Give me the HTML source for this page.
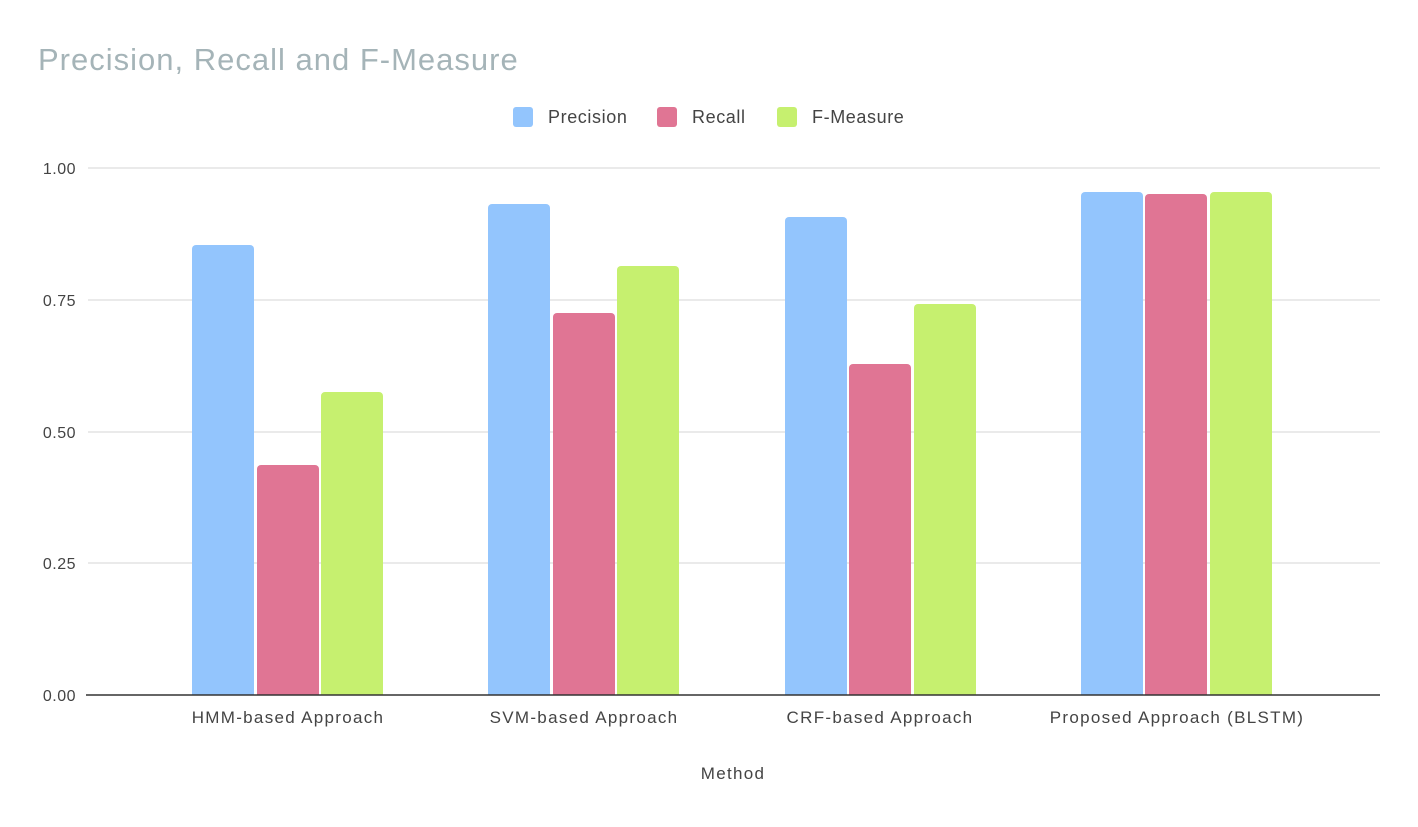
<!DOCTYPE html>
<html><head><style>
body{margin:0;background:#fff;}
svg{display:block;font-family:"Liberation Sans",sans-serif;}
</style></head><body>
<svg width="1418" height="827" viewBox="0 0 1418 827">
<rect width="1418" height="827" fill="#fff"/>
<text x="38" y="70" font-size="31" letter-spacing="1" fill="#a5b4b8">Precision, Recall and F-Measure</text>
<rect x="513" y="107" width="20" height="20" rx="3" fill="#93c5fd"/>
<text x="548" y="123" font-size="18" letter-spacing="0.6" fill="#444">Precision</text>
<rect x="657" y="107" width="20" height="20" rx="3" fill="#e07594"/>
<text x="692" y="123" font-size="18" letter-spacing="0.6" fill="#444">Recall</text>
<rect x="777" y="107" width="20" height="20" rx="3" fill="#c6f06f"/>
<text x="812" y="123" font-size="18" letter-spacing="0.6" fill="#444">F-Measure</text>
<g stroke="#e3e3e3" stroke-width="1.5">
<line x1="88" y1="168" x2="1380" y2="168"/>
<line x1="88" y1="300" x2="1380" y2="300"/>
<line x1="88" y1="432" x2="1380" y2="432"/>
<line x1="88" y1="563" x2="1380" y2="563"/>
</g>
<g font-size="16" fill="#444" text-anchor="end" letter-spacing="0.5">
<text x="76" y="174">1.00</text>
<text x="76" y="306">0.75</text>
<text x="76" y="438">0.50</text>
<text x="76" y="569">0.25</text>
<text x="76" y="701">0.00</text>
</g>
<g>
<rect x="192" y="245" width="62" height="455" rx="4" fill="#93c5fd"/>
<rect x="257" y="465" width="62" height="235" rx="4" fill="#e07594"/>
<rect x="321" y="392" width="62" height="308" rx="4" fill="#c6f06f"/>
<rect x="488" y="204" width="62" height="496" rx="4" fill="#93c5fd"/>
<rect x="553" y="313" width="62" height="387" rx="4" fill="#e07594"/>
<rect x="617" y="266" width="62" height="434" rx="4" fill="#c6f06f"/>
<rect x="785" y="217" width="62" height="483" rx="4" fill="#93c5fd"/>
<rect x="849" y="364" width="62" height="336" rx="4" fill="#e07594"/>
<rect x="914" y="304" width="62" height="396" rx="4" fill="#c6f06f"/>
<rect x="1081" y="192" width="62" height="508" rx="4" fill="#93c5fd"/>
<rect x="1145" y="194" width="62" height="506" rx="4" fill="#e07594"/>
<rect x="1210" y="192" width="62" height="508" rx="4" fill="#c6f06f"/>
</g>
<rect x="86" y="695" width="1294" height="20" fill="#fff"/>
<line x1="86" y1="695" x2="1380" y2="695" stroke="#333" stroke-width="1.5"/>
<g font-size="17" fill="#444" text-anchor="middle" letter-spacing="1.3">
<text x="288" y="723">HMM-based Approach</text>
<text x="584" y="723">SVM-based Approach</text>
<text x="880" y="723">CRF-based Approach</text>
<text x="1177" y="723">Proposed Approach (BLSTM)</text>
<text x="733" y="779">Method</text>
</g>
</svg>
</body></html>
